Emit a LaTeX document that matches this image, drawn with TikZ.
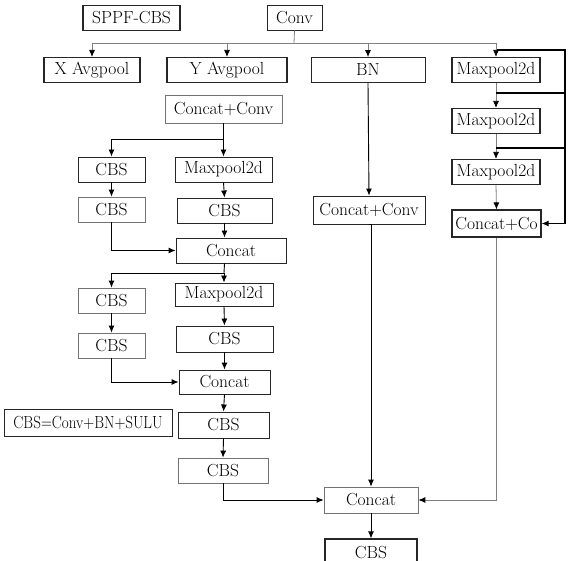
\documentclass[tikz,border=0pt]{standalone}
\usepackage{graphicx}
\usetikzlibrary{arrows.meta}

\tikzset{
  bloc/.style={draw=black!85, line width=0.9pt, fill=white, inner sep=0pt,
    minimum height=25pt, font=\fontsize{17.5}{19}\selectfont},
  blocg/.style={bloc, draw=black!55, line width=0.7pt},
  fil/.style={draw=black, line width=0.9pt},
  filg/.style={draw=black!50, line width=0.8pt},
  fleche/.style={fil, -{Latex[length=7pt,width=6pt]}},
  flecheg/.style={filg, -{Latex[length=7pt,width=6pt,fill=black,color=black]}},
}

\begin{document}
\begin{tikzpicture}[x=1pt, y=-1pt]
    \useasboundingbox[fill=white] (0,0) rectangle (570,561);
    \clip (0,0) rectangle (570,561);

    % --- Entrée ---
    \node[bloc, minimum width=97pt, line width=1.1pt] (sppf) at (131.5,18) {SPPF-CBS};
    \node[bloc, minimum width=55pt] (conv) at (294.5,17.5) {Conv};
    \coordinate (bus) at (294,43);
    \draw[filg] (conv.south) -- (bus);

    % --- Première rangée ---
    \node[bloc, minimum width=96pt, line width=1.1pt] (xavg) at (92,70) {X Avgpool};
    \node[bloc, minimum width=120pt, line width=1.1pt] (yavg) at (227,70) {Y Avgpool};
    \node[bloc, minimum width=114pt] (bn) at (368,70) {BN};
    \node[bloc, minimum width=88pt, line width=1.1pt] (mp1) at (496,70) {Maxpool2d};
    \draw[flecheg] (bus) -| (xavg.north);
    \draw[flecheg] (bus) -| (yavg.north);
    \draw[flecheg] (bus) -| (bn.north);
    \draw[flecheg] (bus) -| (mp1.north);

    % --- Colonne de droite (Maxpool2d) ---
    \node[bloc, minimum width=88pt, line width=1.1pt] (mp2) at (496,121) {Maxpool2d};
    \node[bloc, minimum width=88pt, line width=1.1pt] (mp3) at (496,172) {Maxpool2d};
    \node[bloc, minimum width=89pt, minimum height=27pt, line width=1.1pt] (catco) at (496.5,223.5) {Concat+Co};
    \coordinate (r0) at (497,50);
    \coordinate (rb) at (565,50);
    \draw[flecheg] (mp1.south) -- (mp2.north);
    \draw[flecheg] (mp2.south) -- (mp3.north);
    \draw[flecheg] (mp3.south) -- (catco.north);
    \draw[fleche, line width=1.1pt] (r0) -- (rb) |- (catco.east);
    \draw[fil, line width=1.1pt] (mp1.south |- 0,93) -- (rb |- 0,93);
    \draw[fil, line width=1.1pt] (mp2.south |- 0,148) -- (rb |- 0,148);

    % --- Branche centrale (BN) ---
    \node[bloc, minimum width=112pt, minimum height=28pt] (ccmid) at (369,210) {Concat+Conv};
    \node[blocg, minimum width=94pt, minimum height=26pt] (cat) at (371,500) {Concat};
    \node[bloc, minimum width=92pt, minimum height=28pt, line width=1.2pt] (cbsout) at (371,553) {CBS};
    \draw[fleche] (bn.south) -- (ccmid.north);
    \draw[fleche] (ccmid.south -| cat.north) -- (cat.north);
    \draw[fil] (ccmid.south) -- (ccmid.south -| cat.north);
    \draw[flecheg] (catco.south) |- (cat.east);
    \draw[fleche] (cat.south) -- (cbsout.north);

    % --- Branche de gauche : premier bloc ---
    \node[blocg, minimum width=117pt, minimum height=28pt] (ccl) at (223.5,109) {Concat+Conv};
    \node[bloc, minimum width=67pt] (cbs1) at (111.5,169.5) {CBS};
    \node[bloc, minimum width=97pt] (mpa) at (223.5,169.5) {Maxpool2d};
    \node[blocg, minimum width=67pt] (cbs2) at (111.5,209.5) {CBS};
    \node[bloc, minimum width=95pt] (cbsa) at (224.5,210.5) {CBS};
    \node[bloc, minimum width=110pt] (cata) at (231,250.5) {Concat};
    \coordinate (j1) at (223.5,139);
    \draw[fil] (ccl.south) -- (j1);
    \draw[fleche] (j1) -- (mpa.north);
    \draw[fleche] (j1) -| (cbs1.north);
    \draw[fleche] (cbs1.south) -- (cbs2.north);
    \draw[fleche] (mpa.south) -- (cbsa.north);
    \draw[fleche] (cbsa.south) -- (cbsa.south |- cata.north);
    \draw[fleche] (cbs2.south) |- (cata.west);

    % --- Branche de gauche : second bloc ---
    \node[blocg, minimum width=67pt] (cbs3) at (111.5,300.5) {CBS};
    \node[bloc, minimum width=98pt, minimum height=23pt] (mpb) at (224,294.5) {Maxpool2d};
    \node[blocg, minimum width=67pt] (cbs4) at (111.5,345.5) {CBS};
    \node[bloc, minimum width=97pt, minimum height=26pt] (cbsb) at (224.5,339) {CBS};
    \node[bloc, minimum width=91pt, minimum height=24pt] (catb) at (224.5,382) {Concat};
    \coordinate (j2) at (224,273);
    \draw[fil] (cbsa.south |- cata.south) -- (j2);
    \draw[fleche] (j2) -- (mpb.north);
    \draw[fleche] (j2) -| (cbs3.north);
    \draw[fleche] (cbs3.south) -- (cbs4.north);
    \draw[fleche] (mpb.south) -- (cbsb.north);
    \draw[fleche] (cbsb.south) -- (catb.north);
    \draw[fleche] (cbs4.south) |- (catb.west);

    % --- Sortie de gauche ---
    \node[bloc, minimum width=168pt, minimum height=27pt] (legende) at (88,422.5)
      {\scalebox{0.86}[1]{CBS=Conv+BN+SULU}};
    \node[bloc, minimum width=91pt, minimum height=26pt] (cbsc) at (223.5,425) {CBS};
    \node[blocg, minimum width=90pt] (cbsd) at (223,470.5) {CBS};
    \draw[fleche] (catb.south) -- (cbsc.north);
    \draw[fleche] (cbsc.south) -- (cbsd.north);
    \draw[fleche] (cbsd.south) |- (cat.west);
\end{tikzpicture}
\end{document}
